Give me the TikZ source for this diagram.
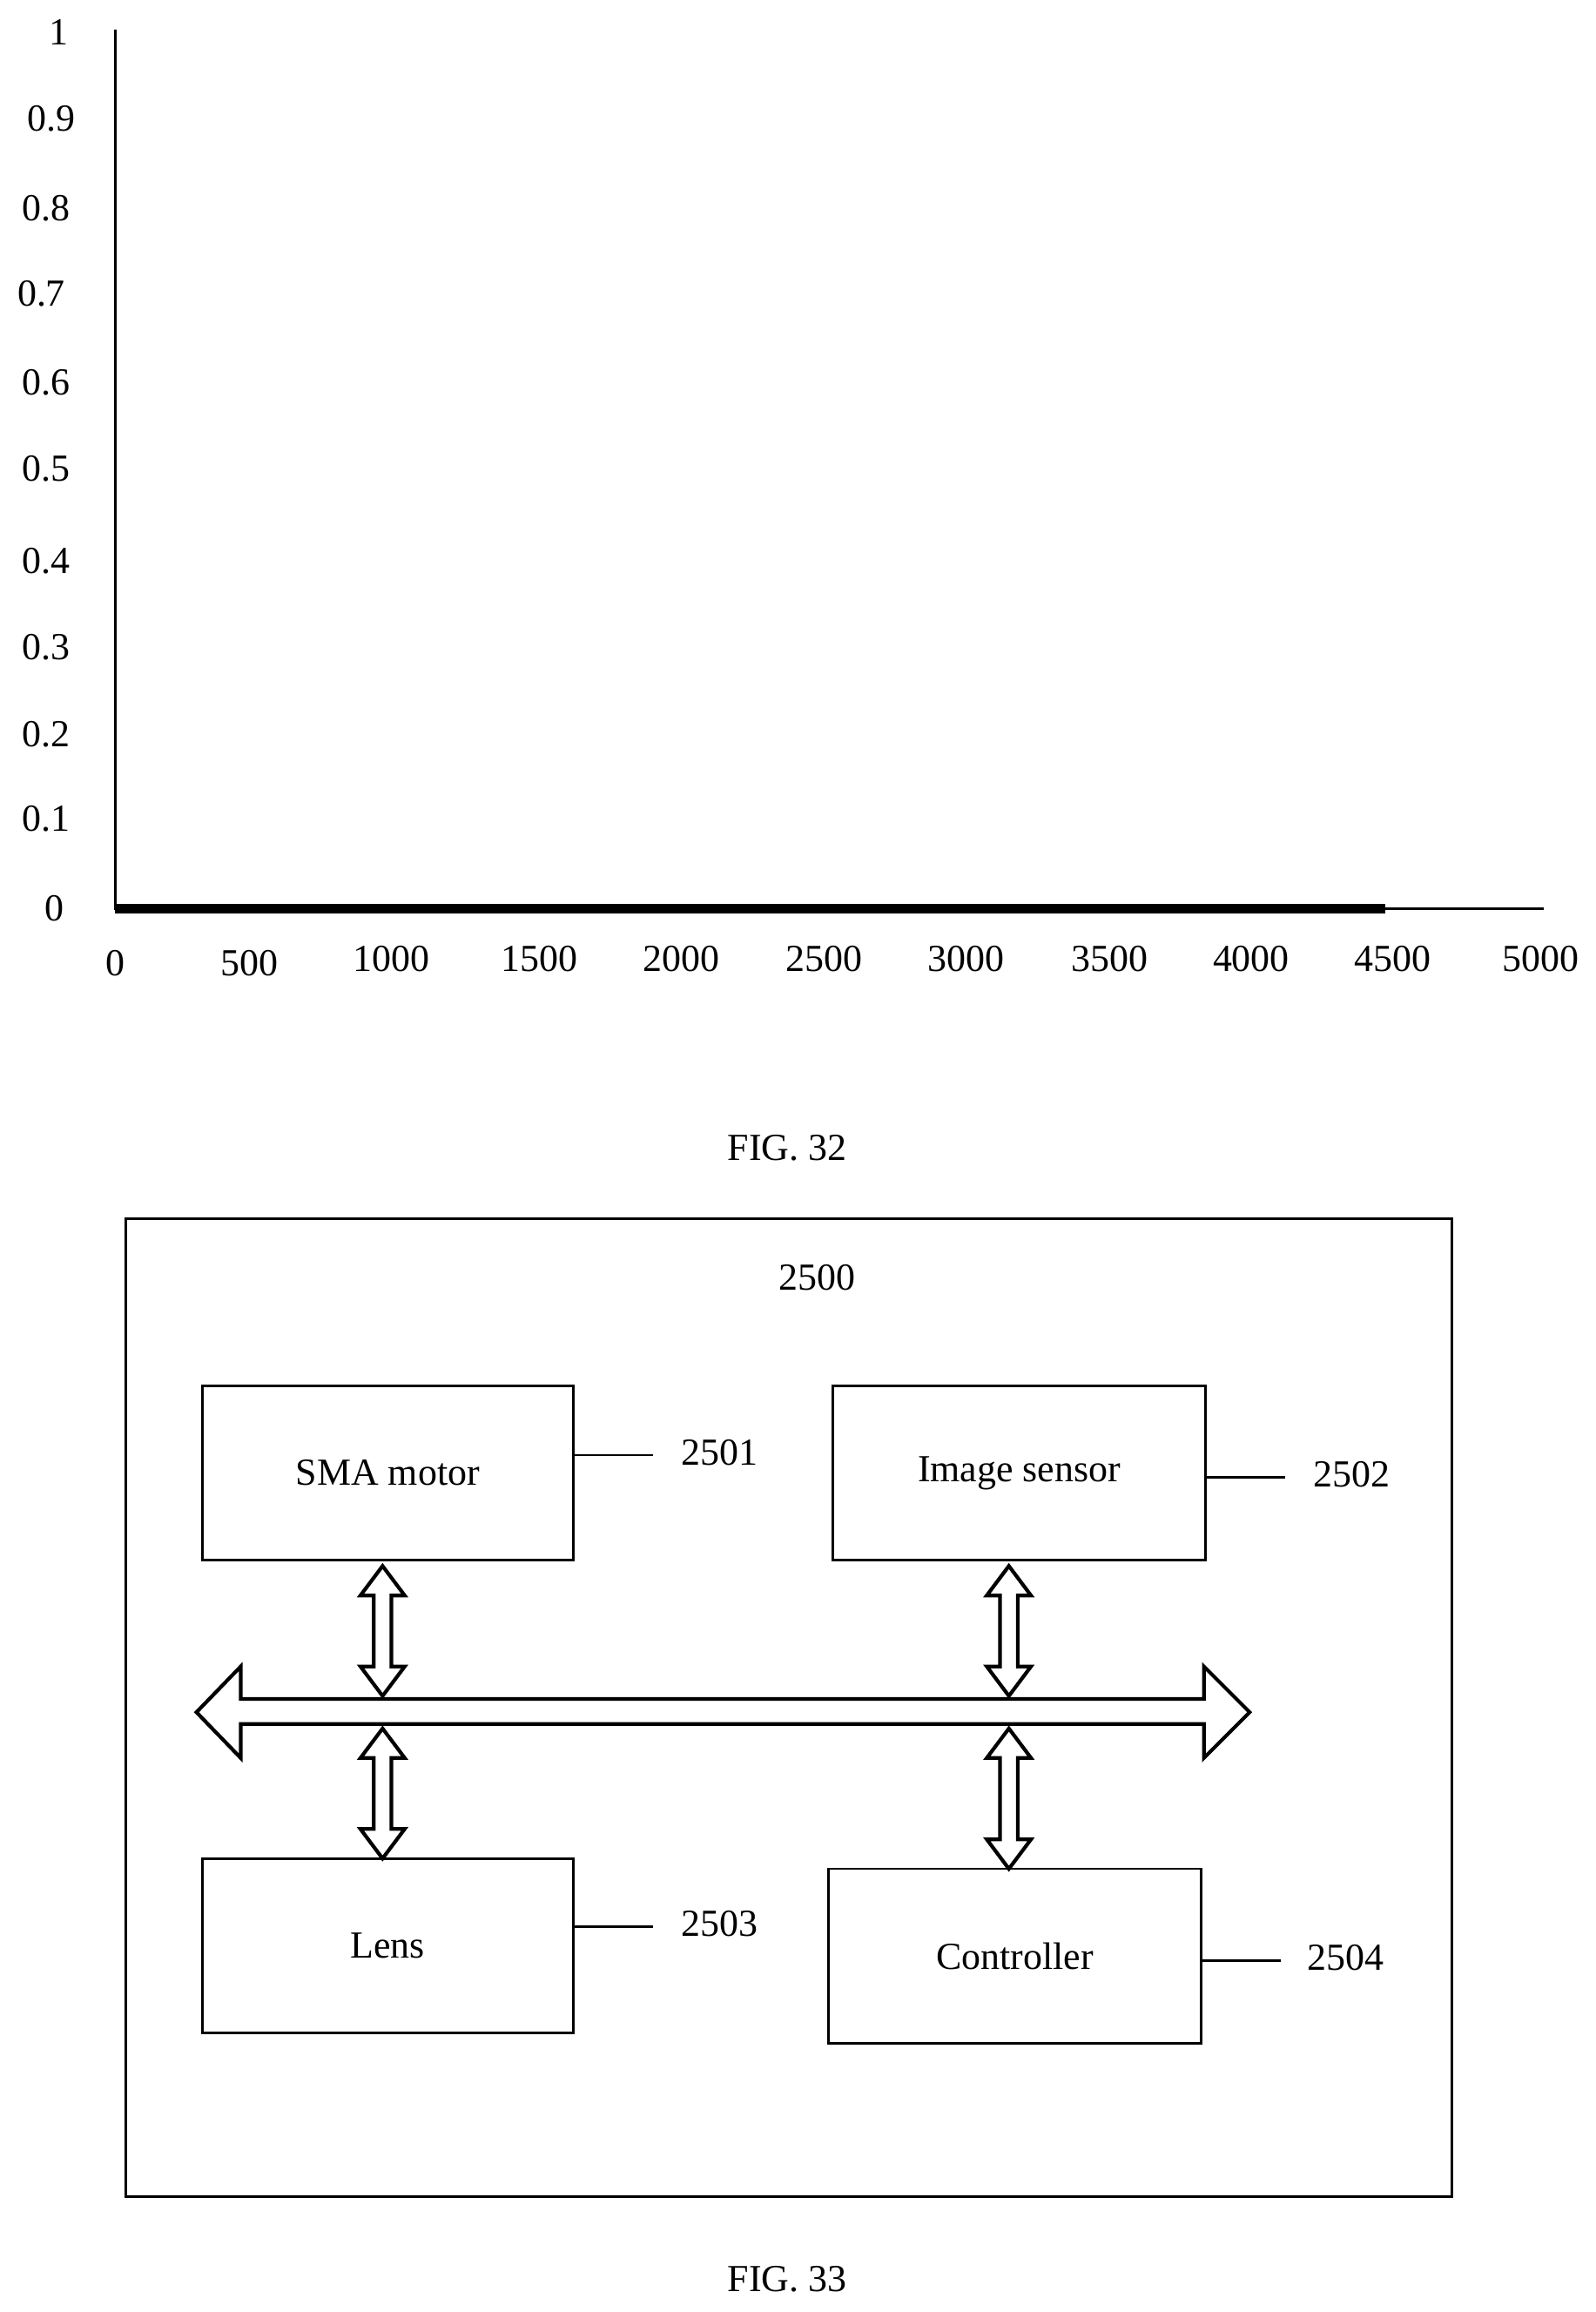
\documentclass[tikz,border=0pt]{standalone}
\usepackage{fontspec}
\setmainfont{Liberation Serif}
\usetikzlibrary{decorations.pathmorphing}
\newcommand{\vdarrow}[3]{% x, top y, bottom y
  \draw[line width=1.2pt,fill=white] (#1,#2) -- (#1-15,#2+20) -- (#1-6,#2+20) -- (#1-6,#3-20)
    -- (#1-15,#3-20) -- (#1,#3) -- (#1+15,#3-20) -- (#1+6,#3-20) -- (#1+6,#2+20)
    -- (#1+15,#2+20) -- cycle;}
\begin{document}
\begin{tikzpicture}[x=0.016963cm,y=-0.016963cm,font=\fontsize{12.5}{14}\selectfont]
    \tikzset{block/.style={draw,line width=0.8pt,minimum width=251\pgflinewidth,inner sep=0pt},
             tick/.style={anchor=center},
             squiggle/.style={line width=0.8pt,decorate,decoration={snake,amplitude=3pt,segment length=54\pgflinewidth}}}
    \useasboundingbox (0,0) rectangle (1080,1565);

    % FIG. 32
    \draw[line width=0.8pt] (78,20) -- (78,615) -- (1045,615);
    \draw[line width=3pt] (78,615) -- (938,615);
    \foreach \lab/\yy/\xx in {1/22/40,0.9/80/35,0.8/141/31,0.7/199/28,0.6/259/31,
                             0.5/317/31,0.4/380/31,0.3/438/31,0.2/497/31,0.1/554/31,0/615/37}
        \node[tick] (y\yy) at (\xx,\yy) {\lab};
    \foreach \lab/\xx/\yy in {0/78/652,500/169/652,1000/265/649,1500/365/649,2000/461/649,
                             2500/558/649,3000/654/649,3500/751/649,4000/847/649,4500/943/649,5000/1043/649}
        \node[tick] (x\lab) at (\xx,\yy) {\lab};
    \node (fig32) at (533,777) {FIG. 32};

    % FIG. 33
    \draw[line width=0.8pt] (85,825) rectangle (983,1487);
    \node (sys) at (553,865) {2500};
    \draw[line width=0.8pt] (137,938) rectangle (388,1056) node[midway] (motor) {SMA motor};
    \draw[line width=0.8pt] (564,938) rectangle (816,1056) node[midway] (sensor) {Image sensor};
    \draw[line width=0.8pt] (137,1258) rectangle (388,1376) node[midway] (lens) {Lens};
    \draw[line width=0.8pt] (561,1265) rectangle (813,1383) node[midway] (ctrl) {Controller};

    \node (l2501) at (487,983) {2501};
    \node (l2502) at (915,998) {2502};
    \node (l2503) at (487,1302) {2503};
    \node (l2504) at (911,1325) {2504};
    \draw[squiggle] (389,985) -- (442,985);
    \draw[squiggle] (817,1000) -- (870,1000);
    \draw[squiggle] (389,1304) -- (442,1304);
    \draw[squiggle] (814,1327) -- (867,1327);

    % bus
    \draw[line width=1.2pt,fill=white] (133,1159) -- (163,1128) -- (163,1150) -- (815,1150)
        -- (815,1128) -- (846,1159) -- (815,1190) -- (815,1167) -- (163,1167) -- (163,1190) -- cycle;
    \vdarrow{259}{1060}{1148}
    \vdarrow{683}{1060}{1148}
    \vdarrow{259}{1170}{1258}
    \vdarrow{683}{1170}{1265}

    \node (fig33) at (533,1543) {FIG. 33};
\end{tikzpicture}
\end{document}
